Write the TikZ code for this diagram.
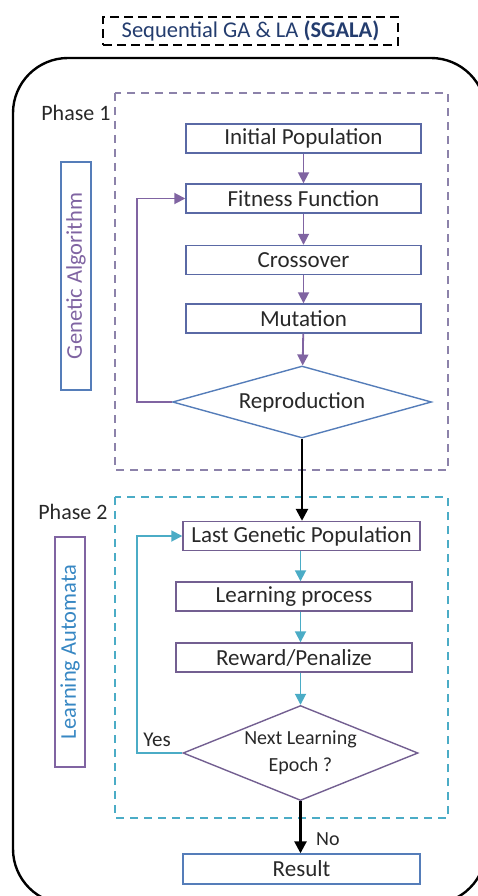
\documentclass[tikz,border=0pt]{standalone}
\usepackage{fontspec}
\setmainfont{Carlito}
\usepackage{tikz}
\usetikzlibrary{
    positioning,
    arrows.meta,
    shapes.geometric
}
\definecolor{gaPurple}{RGB}{128, 100, 162}
\definecolor{laCyan}{RGB}{75, 172, 198}
\definecolor{laBlue}{RGB}{55, 135, 195}
\definecolor{boxBlue}{RGB}{90, 105, 165}
\definecolor{boxPurple}{RGB}{115, 95, 145}
\definecolor{diaBlue}{RGB}{85, 125, 185}
\definecolor{phaseGray}{RGB}{140, 130, 170}
\definecolor{titleNavy}{RGB}{35, 60, 110}
\definecolor{textGray}{RGB}{40, 40, 40}

\begin{document}
\begin{tikzpicture}[x=1pt, y=-1pt,
        stepbox/.style={draw, line width=1.4pt, minimum width=235pt, minimum height=29pt,
            inner sep=0pt, text=textGray, font=\fontsize{23}{25}\selectfont},
        decision/.style={draw, diamond, line width=1.4pt, inner sep=0pt, text=textGray},
        flow/.style={-{Triangle[length=11pt, width=11pt]}, line width=1.8pt},
        mainflow/.style={-{Triangle[length=12pt, width=12pt]}, line width=2.6pt, black},
        phasebox/.style={dashed, dash pattern=on 8pt off 6pt, line width=1.5pt},
        sidelabel/.style={draw, line width=1.5pt, rotate=90, minimum height=30pt,
            inner sep=0pt, font=\fontsize{22.5}{24}\selectfont}]
    \useasboundingbox (0,0) rectangle (478,896);
    \begin{scope}
        \clip (0,0) rectangle (478,896);
        \draw[line width=2.4pt, rounded corners=55pt] (13,58) rectangle (486,904);
    \end{scope}

    % title
    \node[draw, line width=2pt, dashed, dash pattern=on 9pt off 5pt, minimum width=295pt,
        minimum height=28pt, inner sep=0pt, text=titleNavy, font=\fontsize{22.5}{24}\selectfont]
        (title) at (250.5,31) {Sequential GA \& LA \textbf{(SGALA)}};

    % phase 1
    \draw[phasebox, phaseGray] (115,93) rectangle (448,470);
    \node[anchor=east, text=textGray, font=\fontsize{22}{24}\selectfont] (ph1) at (114,113) {Phase 1};
    \node[sidelabel, draw=diaBlue, text=gaPurple, minimum width=228pt] (ga) at (76,276) {Genetic Algorithm};

    \node[stepbox, draw=boxBlue] (init) at (303.5,138.5) {Initial Population};
    \node[stepbox, draw=boxBlue] (fit) at (303.5,198.5) {Fitness Function};
    \node[stepbox, draw=boxBlue] (cross) at (303.5,260) {Crossover};
    \node[stepbox, draw=boxBlue] (mut) at (303.5,318.5) {Mutation};
    \node[decision, draw=diaBlue, aspect=3.6, minimum width=259pt, minimum height=72pt,
        font=\fontsize{23}{25}\selectfont] (repro) at (302,402) {Reproduction};
    \coordinate (loopA) at (137,0);

    \draw[flow, gaPurple] (init) -- (fit);
    \draw[flow, gaPurple] (fit) -- (cross);
    \draw[flow, gaPurple] (cross) -- (mut);
    \draw[flow, gaPurple] (mut) -- (repro);
    \draw[flow, gaPurple] (repro.west) -- (repro.west -| loopA) |- (fit.west);

    % phase 2
    \draw[phasebox, laCyan] (115,497) rectangle (448,818);
    \node[anchor=east, text=textGray, font=\fontsize{22}{24}\selectfont] (ph2) at (111,512) {Phase 2};
    \node[sidelabel, draw=gaPurple, text=laBlue, minimum width=230pt] (la) at (70,652) {Learning Automata};

    \node[stepbox, draw=boxPurple, minimum width=237pt] (lgp) at (301.5,536) {Last Genetic Population};
    \node[stepbox, draw=boxPurple, minimum width=236pt] (lp) at (294,596.5) {Learning process};
    \node[stepbox, draw=boxPurple, minimum width=236pt] (rp) at (294,657.5) {Reward/Penalize};
    \node[decision, draw=boxPurple, aspect=2.5, minimum width=235pt, minimum height=95pt, align=center,
        font=\fontsize{20}{27}\selectfont] (epoch) at (300.5,753) {Next Learning\\Epoch ?};
    \node[stepbox, draw=diaBlue, minimum width=237pt, minimum height=30pt] (res) at (301.5,869) {Result};
    \coordinate (loopB) at (137,0);

    \draw[flow, laCyan] (lgp.south -| epoch) -- (lp.north -| epoch);
    \draw[flow, laCyan] (lp.south -| epoch) -- (rp.north -| epoch);
    \draw[flow, laCyan] (rp.south -| epoch) -- (epoch.north);
    \draw[flow, laCyan] (epoch.west) -- (epoch.west -| loopB) |- (lgp.west);
    \node[text=textGray, font=\fontsize{21}{23}\selectfont] (yes) at (157,740) {Yes};

    % between phases
    \draw[mainflow] (repro.south) -- (repro.south |- lgp.north);
    \draw[mainflow] (epoch.south) -- (epoch.south |- res.north)
        node[pos=0.72, right=11pt, text=textGray, font=\fontsize{20}{22}\selectfont] {No};
\end{tikzpicture}
\end{document}
